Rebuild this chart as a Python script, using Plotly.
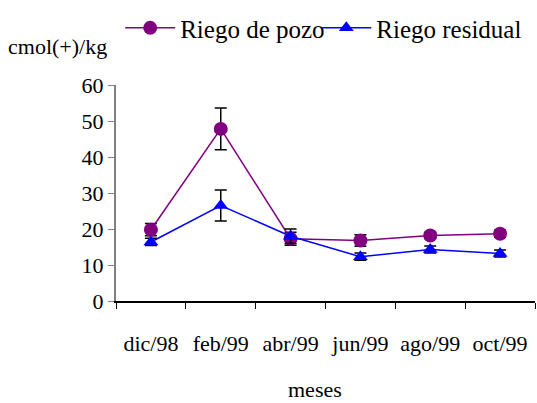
import plotly.graph_objects as go

meses = ["dic/98", "feb/99", "abr/99", "jun/99", "ago/99", "oct/99"]
pozo = [19.8, 47.8, 17.3, 16.8, 18.2, 18.7]
pozo_err = [1.7, 5.8, 1.8, 1.6, 0.9, 1.0]
residual = [16.4, 26.5, 18.0, 12.3, 14.3, 13.2]
residual_err = [1.0, 4.3, 2.0, 1.0, 1.0, 1.0]

font_family = "Liberation Serif, Times New Roman, serif"

fig = go.Figure()
fig.add_trace(go.Scatter(
    x=meses, y=pozo, name="Riego de pozo", mode="lines+markers",
    line=dict(color="#800080", width=1.5),
    marker=dict(symbol="circle", size=14, color="#800080"),
    error_y=dict(type="data", array=pozo_err, color="black", thickness=1.5, width=6),
    legend="legend",
))
fig.add_trace(go.Scatter(
    x=meses, y=residual, name="Riego residual", mode="lines+markers",
    line=dict(color="#0000FF", width=1.5),
    marker=dict(symbol="triangle-up", size=13, color="#0000FF"),
    error_y=dict(type="data", array=residual_err, color="black", thickness=1.5, width=6),
    legend="legend2",
))

legend_style = dict(orientation="h", yanchor="top", xanchor="left", y=1.37,
                    font=dict(size=25), bgcolor="rgba(0,0,0,0)", itemwidth=50)

fig.update_layout(
    width=537, height=403,
    margin=dict(l=116, r=2, t=85, b=102, autoexpand=False),
    paper_bgcolor="white", plot_bgcolor="white",
    font=dict(family=font_family, size=22, color="black"),
    showlegend=True,
    legend=dict(x=0.01, **legend_style),
    legend2=dict(x=0.478, **legend_style),
    xaxis=dict(
        type="category", range=[-0.5, 5.5], tickson="boundaries",
        showline=True, linecolor="black", linewidth=1.5,
        ticks="outside", ticklen=6, tickcolor="black",
        showgrid=False, zeroline=False, automargin=False,
        tickfont=dict(size=22), ticklabelstandoff=22,
    ),
    yaxis=dict(
        range=[0, 60], dtick=10,
        showline=True, linecolor="gray", linewidth=2,
        ticks="outside", ticklen=6, tickcolor="gray",
        showgrid=False, zeroline=False, automargin=False,
        tickfont=dict(size=22),
    ),
    annotations=[
        dict(text="cmol(+)/kg", xref="paper", yref="paper",
             x=-0.262, y=1.176, xanchor="left", yanchor="middle",
             showarrow=False, font=dict(size=22)),
        dict(text="meses", xref="paper", yref="paper",
             x=(315 - 116) / 419, y=-(389 - 301) / 216,
             xanchor="center", yanchor="middle",
             showarrow=False, font=dict(size=22)),
    ],
)

fig.write_html("out.html")
